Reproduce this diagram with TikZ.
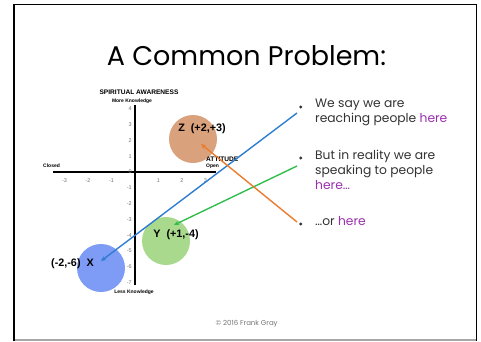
\documentclass[tikz,border=0pt]{standalone}
\usepackage{fontspec}
\setmainfont{Poppins}
\newfontfamily\axisfont{Liberation Sans}
\usetikzlibrary{arrows.meta}
\definecolor{ZOrange}{HTML}{D9A27C}
\definecolor{YGreen}{HTML}{A8D98C}
\definecolor{XBlue}{HTML}{7E9BF6}
\definecolor{LineBlue}{HTML}{2E7DD1}
\definecolor{LineGreen}{HTML}{33BD4E}
\definecolor{LineOrange}{HTML}{EC7B2C}
\definecolor{HerePurple}{HTML}{9B30AE}
\definecolor{BodyGray}{HTML}{333333}

\begin{document}
\begin{tikzpicture}[
    x=1pt, y=-1pt,
    every node/.style={inner sep=0pt},
    blob/.style={circle, minimum size=48pt},
    pointlabel/.style={font=\axisfont\bfseries\fontsize{10.8}{10.8}\selectfont},
    axislabel/.style={font=\axisfont\bfseries\fontsize{5}{5}\selectfont},
    ticklabel/.style={font=\axisfont\fontsize{5.5}{5.5}\selectfont, text=black!55},
    bullettext/.style={anchor=north west, align=left, text=BodyGray, font=\fontsize{12.3}{15}\selectfont},
    pointer/.style={-{Stealth[length=5pt, width=4.5pt]}, line width=1.4pt}
  ]
    \useasboundingbox (0,0) rectangle (481,341);
    % slide frame
    \draw[black!35, line width=1.2pt] (14,340) -- (477,340);
    \draw[line width=1.5pt] (14,341) -- (14,4.7) -- (476.5,4.7) -- (476.5,341);

    \node[font=\fontsize{27}{27}\selectfont, anchor=base] (title) at (246.5,65) {A Common Problem:};

    % the three audiences
    \node[blob, fill=ZOrange] (zcirc) at (193,139) {};
    \node[blob, fill=YGreen] (ycirc) at (166,241) {};
    \node[blob, fill=XBlue] (xcirc) at (101,268) {};

    % axes
    \draw[line width=1.8pt] (53,172) -- (216,172);
    \draw[line width=1.8pt] (135,105) -- (135,285);
    \foreach \i in {-3,-2,-1,1,2,3}
      \node[ticklabel] at (135+23.5*\i,181) {\i};
    \foreach \j in {4,3,...,-7}
      \node[ticklabel, anchor=east] at (132,172-15.8*\j) {\j};

    \node[axislabel, font=\axisfont\bfseries\fontsize{6.6}{6.6}\selectfont] (spirit) at (139,92) {SPIRITUAL AWARENESS};
    \node[axislabel] (more) at (132,101) {More Knowledge};
    \node[axislabel] (less) at (134,292) {Less Knowledge};
    \node[axislabel, anchor=west] (closed) at (43,166) {Closed};
    \node[axislabel, anchor=west, font=\axisfont\bfseries\fontsize{6.6}{6.6}\selectfont] (attitude) at (206,159) {ATTITUDE};
    \node[axislabel, anchor=west] (open) at (206,166) {Open};

    \node[pointlabel] (ztext) at (202,129) {Z\ \ (+2,+3)};
    \node[pointlabel] (ytext) at (176,235) {Y\ \ (+1,-4)};
    \node[pointlabel] (xtext) at (72.5,264) {(-2,-6)\ \ X};

    % bullets
    \fill[BodyGray] (300.7,107) circle (1.6);
    \fill[BodyGray] (300.7,158) circle (1.6);
    \fill[BodyGray] (300.7,224) circle (1.6);
    \node[bullettext] (say) at (315,99) {We say we are\\reaching people \textcolor{HerePurple}{here}};
    \node[bullettext] (reality) at (315,150) {But in reality we are\\speaking to people\\\textcolor{HerePurple}{here\ldots}};
    \node[bullettext] (orhere) at (315,216) {\ldots or \textcolor{HerePurple}{here}};

    % arrows
    \coordinate (sayend) at (297,113);
    \coordinate (realityend) at (297,166);
    \coordinate (orend) at (297,222);
    \coordinate (xhead) at (101,261);
    \coordinate (yhead) at (174,225);
    \coordinate (zhead) at (201,144);
    \draw[pointer, LineBlue] (sayend) -- (xhead);
    \draw[pointer, LineGreen] (realityend) -- (yhead);
    \draw[pointer, LineOrange] (orend) -- (zhead);

    \node[font=\fontsize{7}{7}\selectfont, text=black!55] (copy) at (246.7,324) {© 2016 Frank Gray};
  \end{tikzpicture}
\end{document}
